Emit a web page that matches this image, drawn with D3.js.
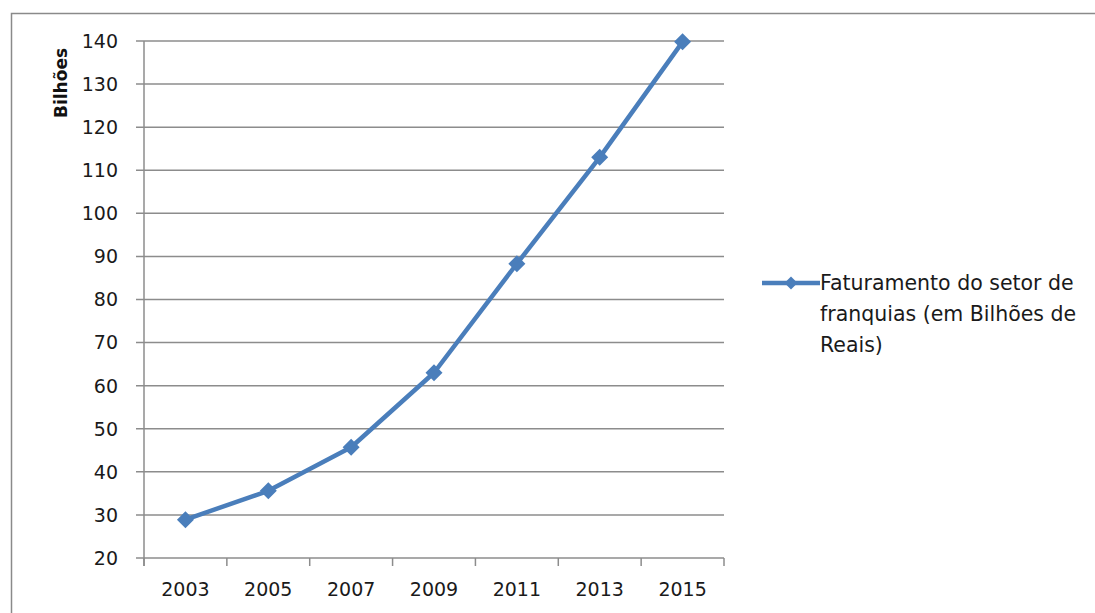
<!DOCTYPE html>
<html>
<head>
<meta charset="utf-8">
<script src="https://cdn.jsdelivr.net/npm/d3@7"></script>
<style>
  html, body { margin: 0; padding: 0; background: #fff; }
  svg { display: block; font-family: "DejaVu Sans", sans-serif; }
</style>
</head>
<body>
<svg id="chart" width="1095" height="613"></svg>
<script>
// Franchise sector revenue, billions of reais
const years = ["2003", "2005", "2007", "2009", "2011", "2013", "2015"];
const revenue = [28.9, 35.6, 45.7, 63.0, 88.3, 113.0, 139.8];
const yTicks = [20, 30, 40, 50, 60, 70, 80, 90, 100, 110, 120, 130, 140];
const yTitle = "Bilhões";
const legendLines = ["Faturamento do setor de", "franquias (em Bilhões de", "Reais)"];

const blue = "#4a7ebb";
const grid = "#8c8c8c";

const svg = d3.select("#chart");

// chart frame
svg.append("rect")
  .attr("x", 11.5).attr("y", 13.5)
  .attr("width", 1100).attr("height", 620)
  .attr("fill", "none").attr("stroke", "#8a8a8a").attr("stroke-width", 1.5);

const plot = { left: 144, right: 724, top: 41, bottom: 558 };

const x = d3.scaleBand().domain(years).range([plot.left, plot.right]);
const y = d3.scaleLinear().domain([20, 140]).range([plot.bottom, plot.top]);

// horizontal gridlines with left tick stubs
svg.append("g").selectAll("line").data(yTicks).join("line")
  .attr("x1", plot.left - 8).attr("x2", plot.right)
  .attr("y1", d => y(d)).attr("y2", d => y(d))
  .attr("stroke", grid).attr("stroke-width", 1.5);

// y axis line
svg.append("line")
  .attr("x1", plot.left).attr("x2", plot.left)
  .attr("y1", plot.top).attr("y2", plot.bottom + 8)
  .attr("stroke", grid).attr("stroke-width", 1.5);

// y tick labels
svg.append("g").selectAll("text").data(yTicks).join("text")
  .attr("x", 118).attr("y", d => y(d))
  .attr("dy", "0.36em")
  .attr("text-anchor", "end")
  .attr("font-size", 19).attr("fill", "#1a1a1a")
  .text(d => d);

// x tick marks at category boundaries
const bounds = years.map(d => x(d)).concat([x(years[years.length - 1]) + x.bandwidth()]);
svg.append("g").selectAll("line").data(bounds).join("line")
  .attr("x1", d => d).attr("x2", d => d)
  .attr("y1", plot.bottom).attr("y2", plot.bottom + 8)
  .attr("stroke", grid).attr("stroke-width", 1.5);

// x tick labels
svg.append("g").selectAll("text").data(years).join("text")
  .attr("x", d => x(d) + x.bandwidth() / 2).attr("y", 589)
  .attr("dy", "0.36em")
  .attr("text-anchor", "middle")
  .attr("font-size", 19).attr("fill", "#1a1a1a")
  .text(d => d);

// y axis title
svg.append("text")
  .attr("transform", "translate(61,83) rotate(-90)")
  .attr("text-anchor", "middle").attr("dy", "0.36em")
  .attr("font-size", 17).attr("font-weight", "bold").attr("fill", "#111")
  .text(yTitle);

// series line
const pts = years.map((d, i) => [x(d) + x.bandwidth() / 2, y(revenue[i])]);
svg.append("path")
  .attr("d", d3.line()(pts))
  .attr("fill", "none").attr("stroke", blue)
  .attr("stroke-width", 4.5).attr("stroke-linejoin", "round");

// diamond markers
const diamond = r => `M0,${-r}L${r},0L0,${r}L${-r},0Z`;
svg.append("g").selectAll("path").data(pts).join("path")
  .attr("transform", d => `translate(${d[0]},${d[1]})`)
  .attr("d", diamond(8.5))
  .attr("fill", blue);

// legend
const lg = svg.append("g").attr("transform", "translate(762,283)");
lg.append("line").attr("x1", 0).attr("x2", 58).attr("y1", 0).attr("y2", 0)
  .attr("stroke", blue).attr("stroke-width", 4.5);
lg.append("path").attr("transform", "translate(29,0)").attr("d", diamond(6.5)).attr("fill", blue);
lg.append("g").selectAll("text").data(legendLines).join("text")
  .attr("x", 58).attr("y", (d, i) => i * 31)
  .attr("dy", "0.36em")
  .attr("font-size", 20.5).attr("fill", "#1a1a1a")
  .text(d => d);
</script>
</body>
</html>
